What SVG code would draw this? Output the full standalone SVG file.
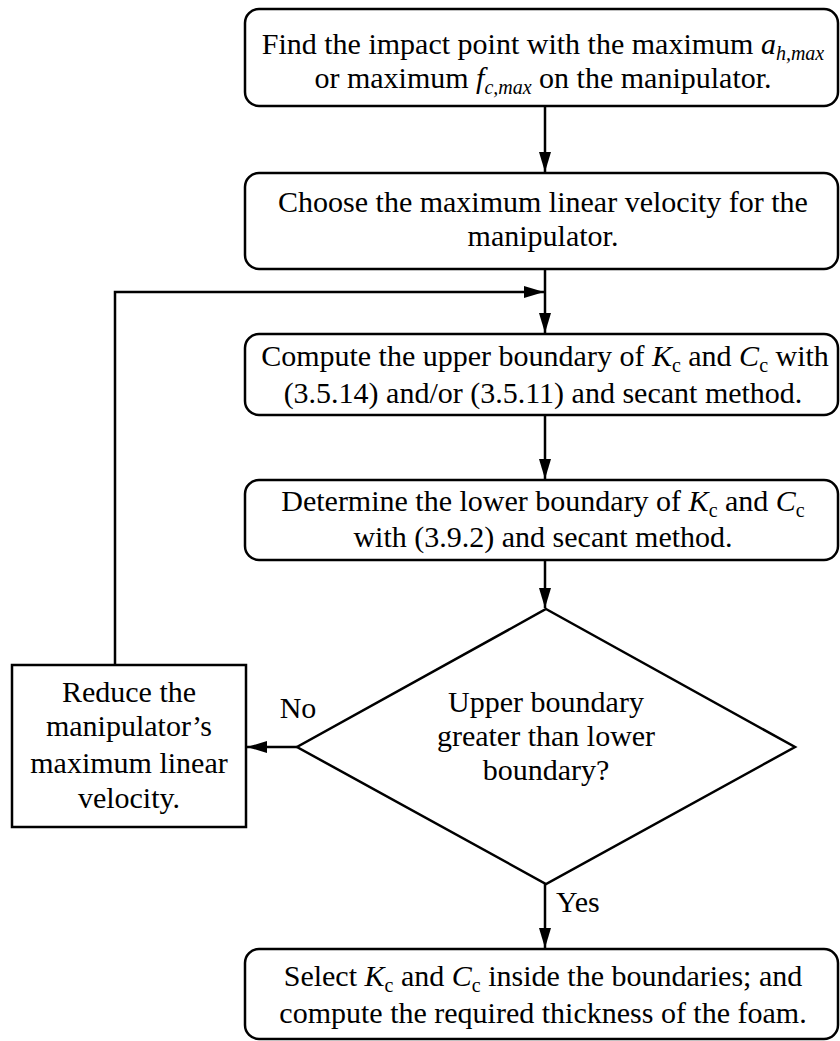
<svg xmlns="http://www.w3.org/2000/svg" width="840" height="1041" viewBox="0 0 840 1041">
<style>
.box{fill:#fff;stroke:#000;stroke-width:2.5}
.ln{fill:none;stroke:#000;stroke-width:2.5}
text{font-family:"Liberation Serif","Times New Roman",serif;font-size:30px;fill:#000}
.c{text-anchor:middle}
.i{font-style:italic}
.s{font-size:20px}
</style>
<defs>
<marker id="ah" viewBox="0 0 20 12" refX="20" refY="6" markerWidth="20" markerHeight="12" markerUnits="userSpaceOnUse" orient="auto">
<path d="M0,0 L20,6 L0,12 Z" fill="#000"/>
</marker>
</defs>
<rect width="840" height="1041" fill="#fff"/>
<g id="connectors">
<line class="ln" x1="545" y1="106" x2="545" y2="172" marker-end="url(#ah)"/>
<line class="ln" x1="545" y1="269" x2="545" y2="333" marker-end="url(#ah)"/>
<polyline class="ln" points="115,665 115,292 544,292" marker-end="url(#ah)"/>
<line class="ln" x1="545" y1="415" x2="545" y2="479" marker-end="url(#ah)"/>
<line class="ln" x1="545" y1="560" x2="545" y2="608" marker-end="url(#ah)"/>
<line class="ln" x1="297" y1="747" x2="247" y2="747" marker-end="url(#ah)"/>
<line class="ln" x1="545" y1="884" x2="545" y2="948" marker-end="url(#ah)"/>
<text x="298" y="718" class="c">No</text>
<text x="556" y="912">Yes</text>
</g>
<g id="n1">
<rect class="box" x="245" y="9" width="593" height="97" rx="14"/>
<text x="543" y="54" class="c">Find the impact point with the maximum <tspan class="i">a</tspan><tspan class="i s" dy="6">h,max</tspan></text>
<text x="543" y="88" class="c">or maximum <tspan class="i">f</tspan><tspan class="i s" dy="6">c,max</tspan><tspan dy="-6"> on the manipulator.</tspan></text>
</g>
<g id="n2">
<rect class="box" x="245" y="173" width="593" height="96" rx="14"/>
<text x="543" y="212" class="c">Choose the maximum linear velocity for the</text>
<text x="543" y="246" class="c">manipulator.</text>
</g>
<g id="n3">
<rect class="box" x="245" y="334" width="593" height="81" rx="14"/>
<text x="545" y="366" class="c">Compute the upper boundary of <tspan class="i">K</tspan><tspan class="s" dy="6">c</tspan><tspan dy="-6"> and </tspan><tspan class="i">C</tspan><tspan class="s" dy="6">c</tspan><tspan dy="-6"> with</tspan></text>
<text x="543" y="403" class="c">(3.5.14) and/or (3.5.11) and secant method.</text>
</g>
<g id="n4">
<rect class="box" x="245" y="480" width="593" height="80" rx="14"/>
<text x="543" y="511" class="c">Determine the lower boundary of <tspan class="i">K</tspan><tspan class="s" dy="6">c</tspan><tspan dy="-6"> and </tspan><tspan class="i">C</tspan><tspan class="s" dy="6">c</tspan></text>
<text x="543" y="547" class="c">with (3.9.2) and secant method.</text>
</g>
<g id="n5">
<polygon class="box" points="546,609 795,747 546,884 297,747"/>
<text x="546" y="712" class="c">Upper boundary</text>
<text x="546" y="746" class="c">greater than lower</text>
<text x="546" y="780" class="c">boundary?</text>
</g>
<g id="n6">
<rect class="box" x="12" y="665" width="234" height="162"/>
<text x="129" y="702" class="c">Reduce the</text>
<text x="129" y="736" class="c">manipulator’s</text>
<text x="129" y="773" class="c">maximum linear</text>
<text x="129" y="808" class="c">velocity.</text>
</g>
<g id="n7">
<rect class="box" x="245" y="949" width="593" height="90" rx="14"/>
<text x="543" y="986" class="c">Select <tspan class="i">K</tspan><tspan class="s" dy="6">c</tspan><tspan dy="-6"> and </tspan><tspan class="i">C</tspan><tspan class="s" dy="6">c</tspan><tspan dy="-6"> inside the boundaries; and</tspan></text>
<text x="543" y="1023" class="c">compute the required thickness of the foam.</text>
</g>
</svg>
